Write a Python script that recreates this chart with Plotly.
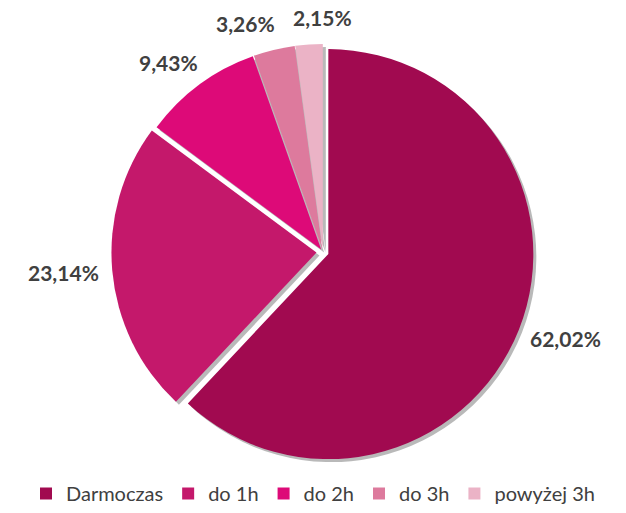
import math
import plotly.graph_objects as go

# Usage-time categories and their shares (%)
labels = ["Darmoczas", "do 1h", "do 2h", "do 3h", "powyżej 3h"]
values = [62.02, 23.14, 9.43, 3.26, 2.15]
colors = ["#A10A50", "#C4186B", "#DD0A78", "#DD7A9D", "#EBB3C6"]
pulls = [0.028, 0.032, 0.015, 0.015, 0.015]

W, H = 626, 513
cx, cy, R = 323, 252, 205          # pie centre and radius in pixels
half = R * (1 + max(pulls))         # domain half-size so that the radius stays R

dom_x = [(cx - half) / W, (cx + half) / W]
dom_y = [1 - (cy + half) / H, 1 - (cy - half) / H]

fig = go.Figure()

# soft grey shadow under the slices
off = 3
fig.add_trace(go.Pie(
    labels=[l + " " for l in labels],
    values=values,
    sort=False,
    direction="clockwise",
    rotation=0,
    pull=pulls,
    marker=dict(colors=["rgba(80,80,80,0.40)"] * 5, line=dict(width=0)),
    textinfo="none",
    hoverinfo="skip",
    showlegend=False,
    domain=dict(x=[dom_x[0] + off / W, dom_x[1] + off / W],
                y=[dom_y[0] - off / H, dom_y[1] - off / H]),
))

fig.add_trace(go.Pie(
    labels=labels,
    values=values,
    sort=False,
    direction="clockwise",
    rotation=0,
    pull=pulls,
    marker=dict(colors=colors, line=dict(width=0)),
    textinfo="none",
    domain=dict(x=dom_x, y=dom_y),
))

# percentage labels just outside each slice's outer edge
font_size = 21
box_w, box_h = 71, 21               # approximate label box size
gap = 20
total = sum(values)
cum = 0.0
pos = []
for v in values:
    mid = (cum + v / 2) / total * 2 * math.pi
    cum += v
    dx, dy = math.sin(mid), -math.cos(mid)
    px = cx + (R + gap) * dx + dx * box_w / 2
    py = cy + (R + gap) * dy + dy * box_h / 2
    pos.append([px, py])

# spread apart labels whose boxes collide
for _ in range(10):
    for i in range(len(pos)):
        for j in range(i + 1, len(pos)):
            (x1, y1), (x2, y2) = pos[i], pos[j]
            if abs(y1 - y2) < box_h and abs(x1 - x2) < box_w + 6:
                push = (box_w + 6 - abs(x1 - x2)) / 2
                s = 1 if x2 >= x1 else -1
                pos[i][0] -= s * push
                pos[j][0] += s * push

for v, (px, py) in zip(values, pos):
    fig.add_annotation(
        x=px / W, y=1 - py / H, xref="paper", yref="paper",
        text=f"{v:.2f}%".replace(".", ","),
        showarrow=False, xanchor="center", yanchor="middle",
        font=dict(family="Lato, Open Sans, sans-serif", size=font_size,
                  color="#404040", weight="bold"),
    )

fig.update_layout(
    width=W, height=H,
    margin=dict(l=0, r=0, t=0, b=0),
    paper_bgcolor="white",
    showlegend=True,
    legend=dict(orientation="h", x=0.5, xanchor="center", y=0.0, yanchor="bottom",
                font=dict(family="Lato, Open Sans, sans-serif", size=20, color="#404040"),
                itemwidth=30, traceorder="normal"),
)

fig.write_html("out.html")
